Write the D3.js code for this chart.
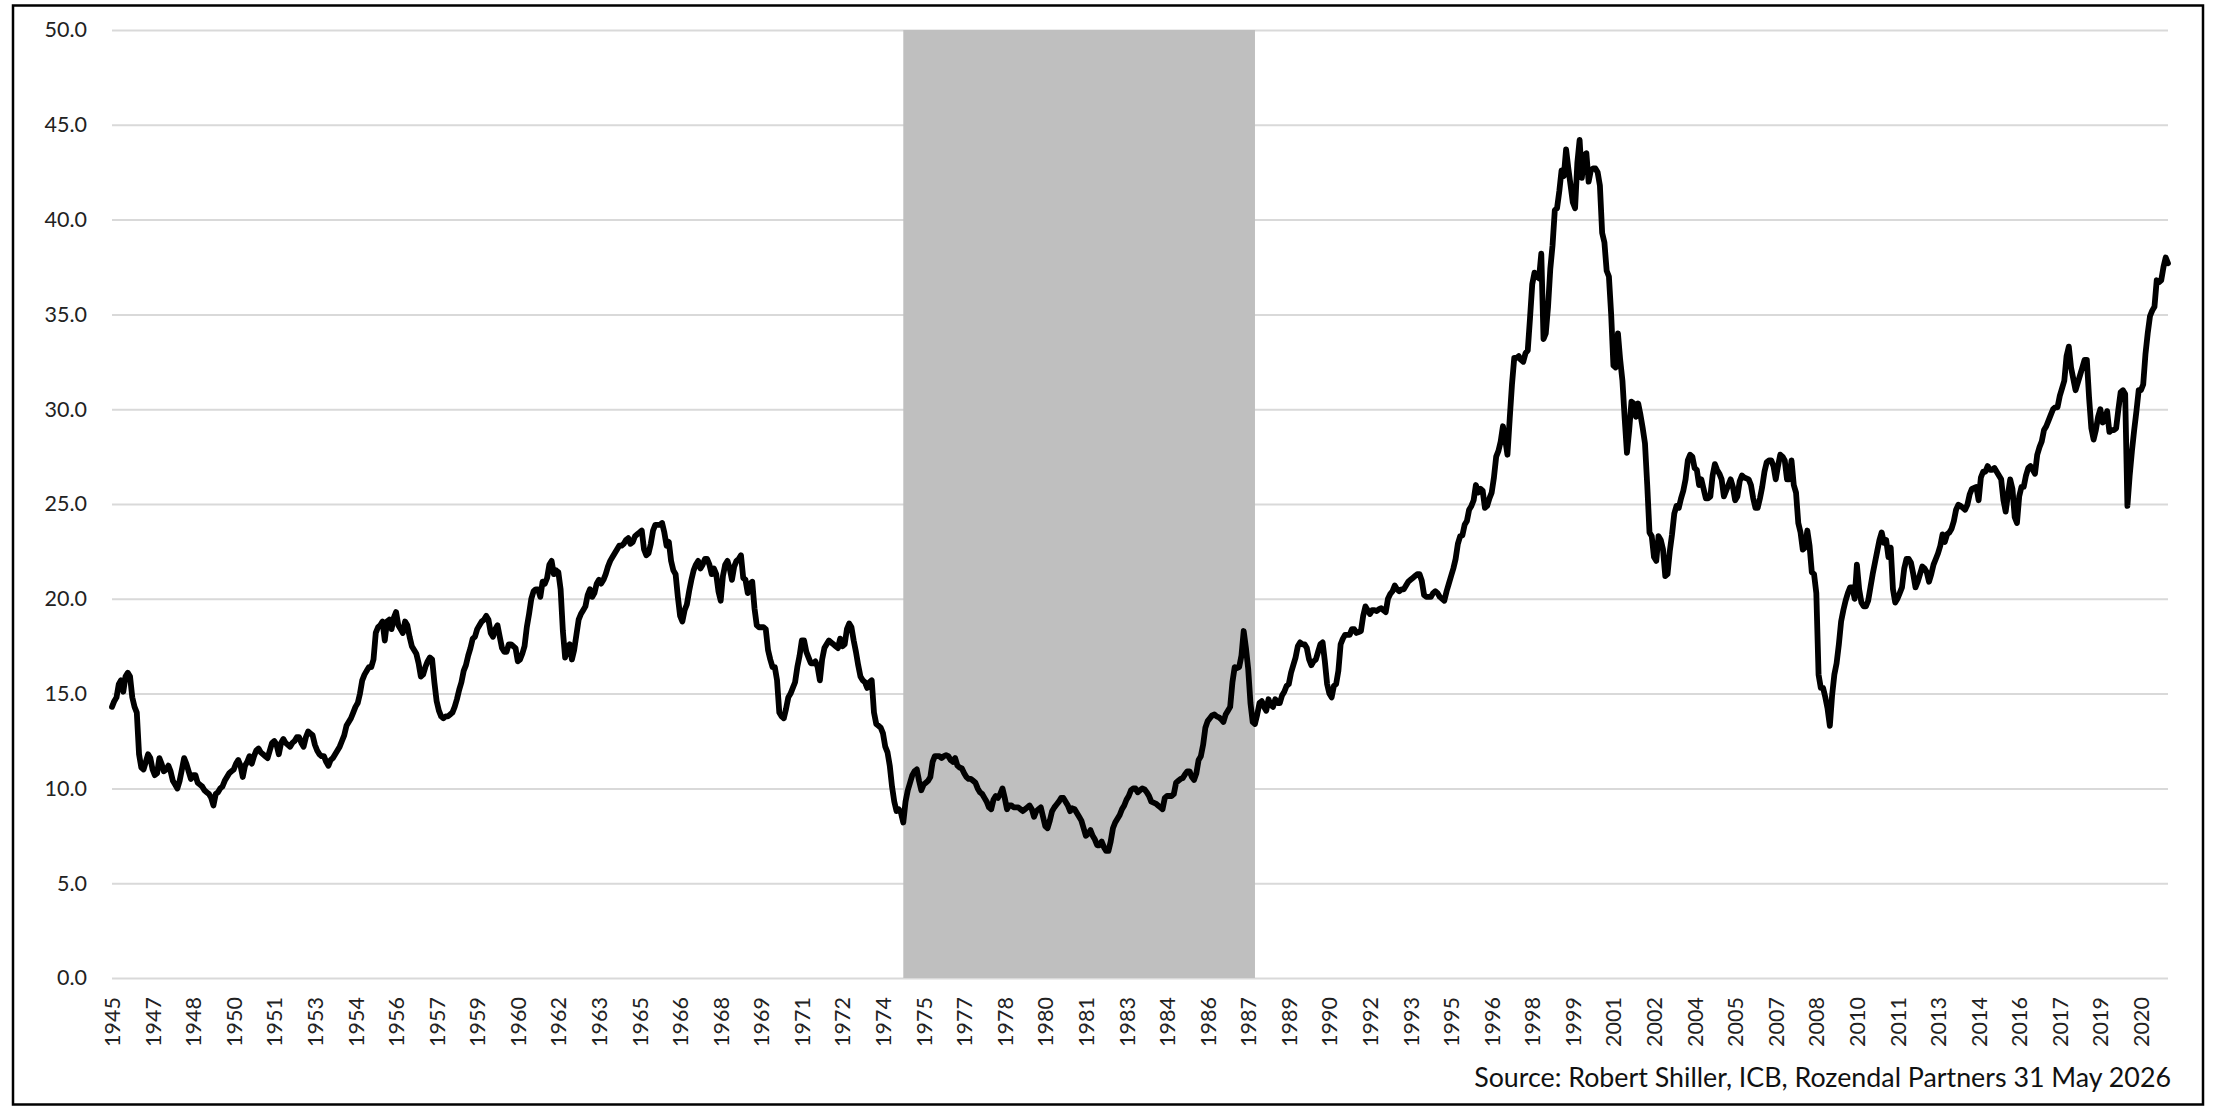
<!DOCTYPE html>
<html>
<head>
<meta charset="utf-8">
<title>CAPE 1945 - 2021</title>
<style>
  body { margin: 0; background: #fff; }
  text { font-family: Lato, "Open Sans", sans-serif; }
</style>
</head>
<body>
<script src="https://cdn.jsdelivr.net/npm/d3@7"></script>
<script>
// monthly values, first one is Sep 1945
const startYear = 1945, startMonth = 9;
const cape = [
  14.3,14.6,14.8,15.5,15.7,15.1,15.9,16.1,15.9,14.8,14.3,14.0,
  11.8,11.1,11.0,11.4,11.8,11.6,11.0,10.7,10.8,11.6,11.3,10.9,
  11.0,11.2,10.9,10.4,10.2,10.0,10.4,11.0,11.6,11.3,10.9,10.5,
  10.7,10.7,10.3,10.2,10.1,9.9,9.8,9.7,9.5,9.1,9.7,9.8,
  10.0,10.1,10.4,10.6,10.8,10.9,11.0,11.3,11.5,11.2,10.6,11.2,
  11.4,11.7,11.3,11.7,12.0,12.1,11.9,11.8,11.7,11.6,12.0,12.4,
  12.5,12.3,11.8,12.4,12.6,12.4,12.3,12.2,12.4,12.5,12.7,12.7,
  12.4,12.2,12.7,13.0,12.9,12.8,12.3,12.0,11.8,11.7,11.7,11.4,
  11.2,11.5,11.6,11.8,12.0,12.2,12.5,12.8,13.3,13.5,13.7,14.0,
  14.3,14.5,15.0,15.7,16.0,16.2,16.4,16.4,16.8,18.2,18.5,18.6,
  18.8,17.8,18.8,18.9,18.4,19.0,19.3,18.6,18.4,18.2,18.8,18.6,
  18.0,17.5,17.3,17.1,16.6,15.9,16.0,16.4,16.7,16.9,16.8,15.6,
  14.6,14.1,13.8,13.7,13.8,13.8,13.9,14.0,14.3,14.7,15.2,15.6,
  16.2,16.5,17.0,17.4,17.9,18.0,18.4,18.6,18.8,18.9,19.1,18.9,
  18.2,18.0,18.4,18.6,18.0,17.4,17.2,17.2,17.6,17.6,17.5,17.4,
  16.7,16.8,17.1,17.5,18.5,19.2,20.0,20.4,20.5,20.5,20.1,20.9,
  20.8,21.1,21.8,22.0,21.3,21.5,21.4,20.5,18.3,16.9,17.4,17.6,
  16.8,17.3,18.1,18.9,19.2,19.4,19.6,20.2,20.5,20.1,20.3,20.8,
  21.0,20.8,21.0,21.3,21.7,22.0,22.2,22.4,22.6,22.8,22.8,22.9,
  23.1,23.2,22.9,23.0,23.3,23.4,23.5,23.6,22.6,22.3,22.4,22.9,
  23.6,23.9,23.9,23.9,24.0,23.5,22.8,23.0,22.0,21.5,21.3,20.1,
  19.1,18.8,19.4,19.7,20.4,21.0,21.5,21.8,22.0,21.6,21.8,22.1,
  22.1,21.8,21.3,21.6,21.3,20.4,19.9,21.2,21.8,22.0,21.6,21.0,
  21.7,22.0,22.1,22.3,21.1,21.0,20.3,20.8,20.9,19.5,18.6,18.5,
  18.5,18.5,18.4,17.3,16.8,16.4,16.4,15.7,14.0,13.8,13.7,14.2,
  14.8,15.0,15.3,15.6,16.4,17.0,17.8,17.8,17.2,16.9,16.6,16.6,
  16.7,16.4,15.7,16.8,17.4,17.6,17.8,17.7,17.6,17.5,17.4,17.9,
  17.5,17.6,18.4,18.7,18.5,17.8,17.2,16.5,15.9,15.7,15.6,15.3,
  15.6,15.7,14.0,13.4,13.3,13.2,12.9,12.2,11.9,11.2,10.1,9.3,
  8.8,8.9,8.7,8.2,9.3,9.9,10.3,10.7,10.9,11.0,10.4,9.9,
  10.2,10.3,10.4,10.6,11.4,11.7,11.7,11.7,11.6,11.7,11.75,11.7,
  11.5,11.4,11.6,11.2,11.1,11.05,10.8,10.6,10.5,10.5,10.4,10.3,
  10.0,9.8,9.7,9.5,9.3,9.0,8.9,9.4,9.6,9.5,9.7,10.0,
  9.5,8.9,9.1,9.1,9.0,9.0,9.0,8.9,8.8,8.9,9.0,9.1,
  8.9,8.5,8.8,8.9,9.0,8.5,8.0,7.9,8.3,8.8,9.0,9.15,
  9.3,9.5,9.5,9.3,9.1,8.8,8.95,8.9,8.7,8.5,8.3,7.9,
  7.5,7.6,7.8,7.5,7.3,7.0,7.0,7.2,6.9,6.7,6.7,7.2,
  7.9,8.2,8.4,8.6,8.9,9.1,9.4,9.6,9.9,10.0,10.0,9.8,
  9.9,10.0,9.95,9.8,9.6,9.3,9.25,9.2,9.1,9.0,8.9,9.5,
  9.6,9.6,9.6,9.7,10.3,10.4,10.5,10.55,10.75,10.9,10.9,10.6,
  10.45,10.8,11.5,11.7,12.3,13.2,13.55,13.7,13.85,13.9,13.8,13.75,
  13.65,13.5,13.9,14.1,14.3,15.6,16.4,16.35,16.4,17.0,18.3,17.4,
  16.3,14.5,13.5,13.4,13.9,14.5,14.6,14.3,14.1,14.7,14.4,14.3,
  14.7,14.5,14.5,14.9,15.1,15.4,15.5,16.1,16.5,16.9,17.5,17.7,
  17.6,17.6,17.4,16.8,16.5,16.7,16.8,17.2,17.6,17.7,16.7,15.5,
  15.0,14.8,15.4,15.5,16.2,17.6,17.9,18.1,18.1,18.1,18.4,18.4,
  18.2,18.25,18.3,19.1,19.6,19.4,19.2,19.4,19.4,19.35,19.45,19.5,
  19.4,19.3,20.0,20.25,20.4,20.7,20.5,20.4,20.5,20.5,20.7,20.9,
  21.0,21.1,21.2,21.3,21.3,20.95,20.2,20.1,20.1,20.1,20.3,20.4,
  20.3,20.1,20.0,19.9,20.4,20.8,21.2,21.6,22.1,22.9,23.3,23.35,
  23.9,24.1,24.7,24.9,25.2,26.0,25.6,25.8,25.7,24.8,24.9,25.3,
  25.6,26.4,27.5,27.8,28.3,29.1,28.4,27.6,29.5,31.3,32.7,32.7,
  32.8,32.6,32.5,32.95,33.1,34.8,36.6,37.2,37.0,36.9,38.2,33.7,
  34.0,35.4,37.4,38.65,40.5,40.6,41.5,42.6,42.3,43.7,42.7,41.8,
  40.9,40.6,43.0,44.2,42.2,43.4,43.5,42.0,42.6,42.7,42.7,42.5,
  41.8,39.3,38.8,37.3,37.0,35.0,32.3,32.2,34.0,32.6,31.5,29.5,
  27.7,28.9,30.4,30.3,29.6,30.3,29.7,29.0,28.2,26.0,23.5,23.3,
  22.2,22.0,23.3,23.1,22.6,21.2,21.3,22.5,23.4,24.5,24.9,24.8,
  25.3,25.7,26.3,27.3,27.6,27.5,26.9,26.8,26.0,26.3,25.8,25.3,
  25.3,25.4,26.5,27.1,26.8,26.6,26.3,25.4,25.7,26.0,26.3,25.9,
  25.2,25.4,26.2,26.5,26.4,26.35,26.3,26.0,25.3,24.8,24.8,25.3,
  25.9,26.7,27.2,27.3,27.3,27.0,26.3,27.0,27.6,27.5,27.3,26.3,
  26.3,27.3,26.0,25.6,24.0,23.5,22.6,22.7,23.6,22.8,21.4,21.3,
  20.3,16.0,15.3,15.3,14.8,14.2,13.3,14.9,16.0,16.6,17.6,18.8,
  19.4,19.9,20.3,20.6,20.6,20.0,21.8,20.5,19.8,19.6,19.6,19.9,
  20.6,21.3,21.9,22.5,23.1,23.5,22.95,23.1,22.2,22.7,20.5,19.8,
  20.0,20.3,20.6,21.6,22.1,22.1,21.9,21.3,20.6,20.9,21.3,21.7,
  21.6,21.4,20.9,21.3,21.8,22.1,22.4,22.8,23.4,23.0,23.4,23.5,
  23.7,24.1,24.7,24.96,24.9,24.8,24.7,24.96,25.5,25.8,25.85,25.9,
  25.2,26.4,26.7,26.7,27.0,26.8,26.8,26.9,26.7,26.5,26.3,25.2,
  24.6,25.5,26.3,25.8,24.3,24.0,25.4,25.9,25.9,26.5,26.9,27.0,
  26.8,26.6,27.6,28.0,28.3,28.9,29.1,29.4,29.7,30.0,30.1,30.1,
  30.7,31.1,31.5,32.8,33.3,32.2,31.6,31.0,31.4,31.8,32.2,32.6,
  32.6,30.6,29.0,28.4,28.9,29.6,30.0,29.3,29.4,29.9,28.8,28.9,
  28.9,29.0,30.0,30.9,31.0,30.8,24.9,26.5,27.8,28.9,29.9,31.0,
  31.0,31.3,32.9,34.0,34.9,35.2,35.4,36.8,36.7,36.8,37.5,38.0,
  37.7
];
const yTicks = [0, 5, 10, 15, 20, 25, 30, 35, 40, 45, 50];
const shadeFrom = "1974-12", shadeTo = "1987-12";
const labelEvery = 18;
const source = "Source: Robert Shiller, ICB, Rozendal Partners 31 May 2026";

let W = 2219, H = 1107;
let plotL = 112, plotR = 2168, plotT = 30, plotB = 978;

// "YYYY-MM" for every value
let months = cape.map(function(d, i) {
    let t = startMonth - 1 + i;
    return (startYear + Math.floor(t / 12)) + "-" + String(t % 12 + 1).padStart(2, "0");
});
let data = cape.map(function(v, i) { return { m: months[i], v: v }; });

let svg = d3.select("body").append("svg")
    .attr("width", W)
    .attr("height", H);

let x = d3.scalePoint().domain(months).range([plotL, plotR]);
let y = d3.scaleLinear().domain([0, 50]).range([plotB, plotT]);

// y axis + gridlines
let yAxis = svg.append("g")
    .attr("transform", "translate(" + plotL + ",0)")
    .call(d3.axisLeft(y).tickValues(yTicks).tickFormat(d3.format(".1f"))
        .tickSizeInner(-(plotR - plotL)).tickSizeOuter(0).tickPadding(25));
yAxis.select(".domain").remove();
yAxis.selectAll("line").attr("stroke", "#d9d9d9").attr("stroke-width", 2);
yAxis.selectAll("text")
    .attr("fill", "#222")
    .style("font-size", "21.5px");

// shaded period
svg.append("rect")
    .attr("x", x(shadeFrom))
    .attr("y", y(50))
    .attr("width", x(shadeTo) - x(shadeFrom))
    .attr("height", y(0) - y(50))
    .attr("fill", "#bfbfbf");

// x axis labels, every 18 months
let xAxis = svg.append("g")
    .attr("transform", "translate(0," + plotB + ")")
    .call(d3.axisBottom(x)
        .tickValues(months.filter(function(d, i) { return i % labelEvery == 0; }))
        .tickFormat(function(d) { return d.slice(0, 4); })
        .tickSize(0));
xAxis.select(".domain").remove();
xAxis.selectAll("text")
    .attr("transform", "rotate(-90)")
    .attr("x", -19)
    .attr("y", 0)
    .attr("dy", "0.35em")
    .attr("fill", "#222")
    .style("text-anchor", "end")
    .style("font-size", "21.5px");

// the series
let line = d3.line()
    .x(function(d) { return x(d.m); })
    .y(function(d) { return y(d.v); });

svg.append("path")
    .datum(data)
    .attr("d", line)
    .attr("fill", "none")
    .attr("stroke", "#000")
    .attr("stroke-width", 5.8)
    .attr("stroke-linejoin", "round")
    .attr("stroke-linecap", "round");

svg.append("text")
    .text(source)
    .attr("x", 2171)
    .attr("y", 1087)
    .attr("text-anchor", "end")
    .attr("fill", "#111")
    .style("font-size", "26.8px");

// outer frame
svg.append("rect")
    .attr("x", 13)
    .attr("y", 5.5)
    .attr("width", 2190)
    .attr("height", 1099)
    .attr("fill", "none")
    .attr("stroke", "#000")
    .attr("stroke-width", 2.5);
</script>
</body>
</html>
